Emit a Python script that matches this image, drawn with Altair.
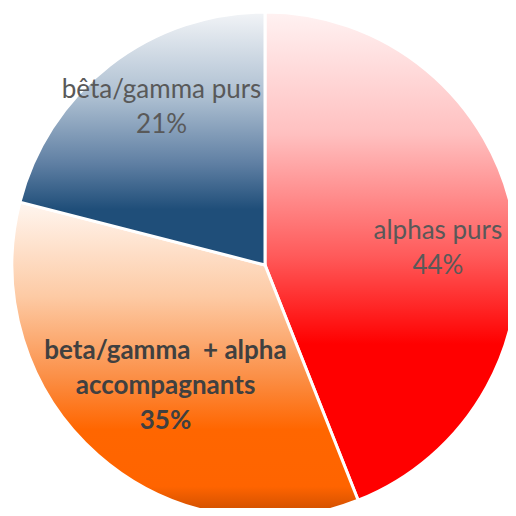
import altair as alt
import pandas as pd

# ---- data ----
categories = ["alphas purs", "beta/gamma\u00a0 + alpha\naccompagnants", "bêta/gamma purs"]
values = [44, 35, 21]
order = [1, 2, 3]

df = pd.DataFrame({"cat": categories, "value": values, "order": order})
df["label"] = [f"{c}\n{v}%" for c, v in zip(categories, values)]
total = sum(values)

theta_scale = alt.Scale(domain=[0, total])

base = alt.Chart(df).transform_window(
    cum="sum(value)", sort=[alt.SortField("order")], frame=[None, 0]
).transform_calculate(
    start="datum.cum - datum.value",
    mid="datum.cum - datum.value / 2",
)


def grad(stops):
    return alt.LinearGradient(
        gradient="linear",
        x1=0, x2=0, y1=0, y2=1,
        stops=[alt.GradientStop(color=c, offset=o) for o, c in stops],
    )


red = grad([(0, "#fff2f2"), (0.25, "#ffc0c0"), (0.5, "#ff5a5a"), (0.68, "#ff0000"), (1, "#ff0000")])
orange = grad([(0, "#fff6f0"), (0.3, "#fdcaa4"), (0.55, "#fb9048"), (0.72, "#ff6600"), (0.9, "#ff6400"), (1, "#c44a00")])
blue = grad([(0, "#f2f4f7"), (0.35, "#a9bccf"), (0.6, "#5f7fa3"), (0.78, "#1f4e79"), (1, "#1f4e79")])


def arc(idx, color):
    return base.transform_filter(alt.datum.order == idx).mark_arc(
        radius=253, color=color, stroke="white", strokeWidth=3
    ).encode(
        theta=alt.Theta("start:Q", scale=theta_scale, stack=None),
        theta2="cum:Q",
    )


def label(idx, radius, dx, dy, weight, color):
    return base.transform_filter(alt.datum.order == idx).mark_text(
        radius=radius, dx=dx, dy=dy, font="Lato", fontSize=26, fontWeight=weight,
        color=color, lineBreak="\n", align="center", baseline="middle", lineHeight=35,
    ).encode(
        theta=alt.Theta("mid:Q", scale=theta_scale, stack=None),
        text="label:N",
    )


chart = alt.layer(
    arc(1, red),
    arc(2, orange),
    arc(3, blue),
    label(1, 176, 0, -1, "normal", "#595959"),
    label(2, 155, 3, -30, "bold", "#404040"),
    label(3, 190, 13, -25, "normal", "#595959"),
).properties(
    width=486,
    height=486,
    padding={"left": 14, "top": 14, "right": 0, "bottom": 0},
    autosize=alt.AutoSizeParams(type="none"),
).configure_view(stroke=None)

chart.save("out.html", embed_options={"renderer": "svg", "actions": False})
